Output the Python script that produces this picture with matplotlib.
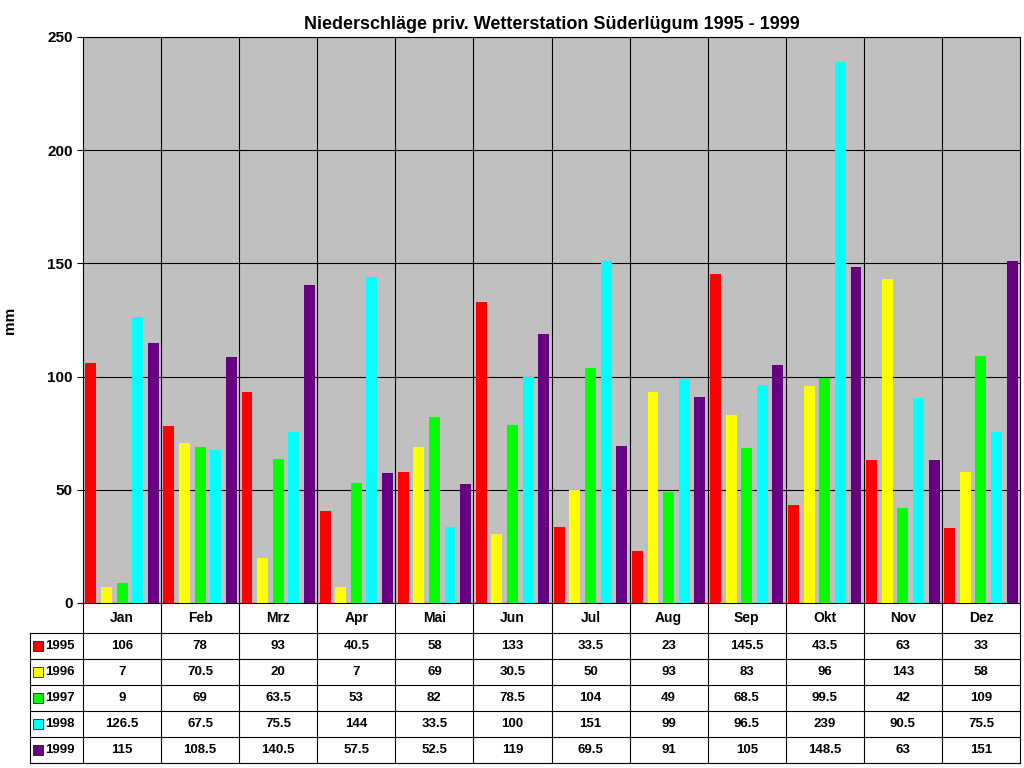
import matplotlib
matplotlib.use("Agg")
import matplotlib.pyplot as plt
import numpy as np

months = ["Jan","Feb","Mrz","Apr","Mai","Jun","Jul","Aug","Sep","Okt","Nov","Dez"]
years = ["1995","1996","1997","1998","1999"]
v1995 = [106,78,93,40.5,58,133,33.5,23,145.5,43.5,63,33]
v1996 = [7,70.5,20,7,69,30.5,50,93,83,96,143,58]
v1997 = [9,69,63.5,53,82,78.5,104,49,68.5,99.5,42,109]
v1998 = [126.5,67.5,75.5,144,33.5,100,151,99,96.5,239,90.5,75.5]
v1999 = [115,108.5,140.5,57.5,52.5,119,69.5,91,105,148.5,63,151]
series = [v1995, v1996, v1997, v1998, v1999]
colors = ["#FF0000","#FFFF00","#00FF00","#00FFFF","#660080"]

plt.rcParams['font.family'] = ['Liberation Sans', 'DejaVu Sans']
fig = plt.figure(figsize=(10.24,7.68), dpi=100)
W, H = 1024, 768
ax = fig.add_axes([83/W, (H-603)/H, 937/W, 566/H])
ax.set_facecolor("#C0C0C0")
x = np.arange(12)
for k, (vals, c) in enumerate(zip(series, colors)):
    ax.bar(x + 0.1 + 0.2*k, vals, width=0.14, color=c, align='center', zorder=3)
ax.set_xlim(0, 12)
ax.set_ylim(0, 250)
ax.set_yticks(range(0, 251, 50))
ax.set_xticks([])
ax.grid(axis='y', color='black', linewidth=0.8, zorder=1)
for i in range(1, 12):
    ax.axvline(i, color='black', linewidth=0.8, zorder=1)
for s in ax.spines.values():
    s.set_linewidth(0.8)
ax.tick_params(axis='y', labelsize=11, length=4)
for t in ax.get_yticklabels():
    t.set_fontweight('bold')
ax.set_ylabel("mm", fontsize=11, fontweight='bold', labelpad=22)
ax.set_title("Niederschläge priv. Wetterstation Süderlügum 1995 - 1999", fontsize=13, fontweight='bold', pad=6)

# table
tax = fig.add_axes([83/W, (H-763)/H, 937/W, 160/H])
tax.set_xlim(0, 12)
tax.set_ylim(160, 0)
tax.axis('off')
left = (30-83)/(937/12)
rows_y = [0, 30, 56, 82, 108, 134, 160]
lk = dict(color='black', linewidth=0.8, clip_on=False)
for i in range(13):
    tax.plot([i, i], [0, 160], **lk)
for j, yy in enumerate(rows_y):
    if j == 0:
        continue
    tax.plot([left, 12], [yy, yy], **lk)
tax.plot([left, left], [30, 160], **lk)
for i, m in enumerate(months):
    tax.text(i+0.5, 15, m, ha='center', va='center', fontsize=10, fontweight='bold')
for r, (yr, vals, c) in enumerate(zip(years, series, colors)):
    yc = (rows_y[r+1] + rows_y[r+2]) / 2
    tax.scatter([left + 0.1], [yc], marker='s', s=55, color=c, edgecolor='black', linewidth=0.5, clip_on=False)
    tax.text(left + 0.2, yc, yr, ha='left', va='center', fontsize=9.5, fontweight='bold')
    for i, v in enumerate(vals):
        tax.text(i+0.5, yc, f"{v:g}", ha='center', va='center', fontsize=9.5, fontweight='bold')

fig.savefig("out.png", dpi=100)
